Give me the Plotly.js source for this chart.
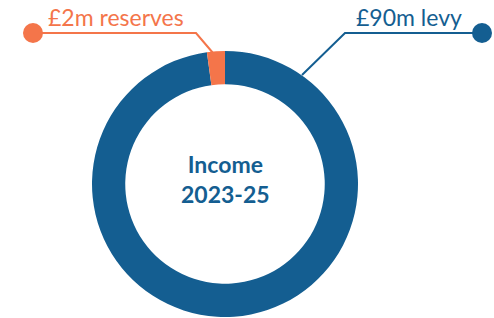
<!DOCTYPE html>
<html><head><meta charset="utf-8">
<script src="https://cdn.plot.ly/plotly-3.0.1.min.js"></script>
<style>html,body{margin:0;padding:0;background:#fff}#c{width:494px;height:318px}</style>
</head><body><div id="c"></div>
<script>
const labels = ["£90m levy", "£2m reserves"];
const values = [90, 2];
const colors = ["#145E91", "#F4754A"];
const centerTitle = ["Income", "2023-25"];

const W = 494, H = 318;
const px = x => x / W, py = y => (H - y) / H;
const cx = 225, cy = 184, R = 133;

const data = [{
  type: "pie",
  labels: labels,
  values: values,
  hole: 0.75,
  sort: false,
  direction: "clockwise",
  rotation: 0,
  marker: {colors: colors, line: {width: 0}},
  textinfo: "none",
  hoverinfo: "label",
  showlegend: false,
  domain: {x: [px(cx - R), px(cx + R)], y: [py(cy + R), py(cy - R)]}
}];

const font = "Lato, 'Open Sans', sans-serif";
const layout = {
  width: W, height: H,
  margin: {l: 0, r: 0, t: 0, b: 0},
  paper_bgcolor: "#fff",
  showlegend: false,
  shapes: [
    {type: "path", xref: "paper", yref: "paper",
     path: `M ${px(33)} ${py(33)} L ${px(196)} ${py(33)} L ${px(213)} ${py(53)}`,
     line: {color: colors[1], width: 2}},
    {type: "circle", xref: "paper", yref: "paper",
     x0: px(23), x1: px(43), y0: py(43), y1: py(23),
     fillcolor: colors[1], line: {width: 0}},
    {type: "path", xref: "paper", yref: "paper",
     path: `M ${px(482)} ${py(33)} L ${px(345)} ${py(33)} L ${px(302)} ${py(75)}`,
     line: {color: colors[0], width: 2}},
    {type: "circle", xref: "paper", yref: "paper",
     x0: px(472), x1: px(492), y0: py(43), y1: py(23),
     fillcolor: colors[0], line: {width: 0}}
  ],
  annotations: [
    {text: labels[1], xref: "paper", yref: "paper", x: px(116), y: py(17),
     xanchor: "center", yanchor: "middle", showarrow: false,
     font: {family: font, size: 23, color: colors[1]}},
    {text: labels[0], xref: "paper", yref: "paper", x: px(409), y: py(17),
     xanchor: "center", yanchor: "middle", showarrow: false,
     font: {family: font, size: 23, color: colors[0]}},
    {text: "<b>" + centerTitle.join("<br>") + "</b>", xref: "paper", yref: "paper",
     x: px(cx), y: py(179), xanchor: "center", yanchor: "middle", showarrow: false,
     font: {family: font, size: 23, color: colors[0]}}
  ]
};

Plotly.newPlot("c", data, layout, {displayModeBar: false, staticPlot: true});
</script></body></html>
